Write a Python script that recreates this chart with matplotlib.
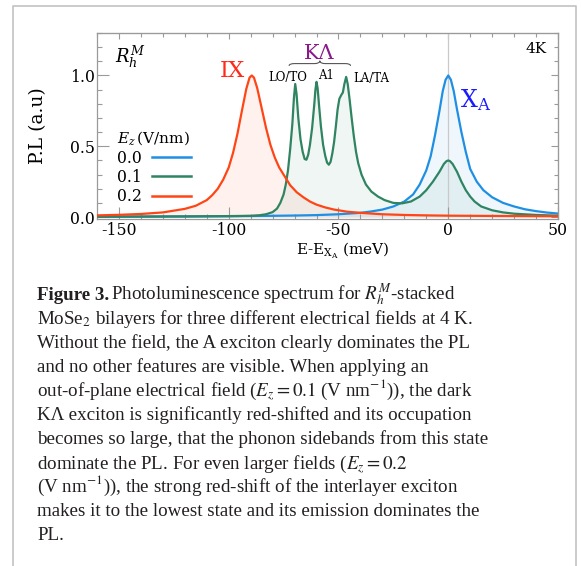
import matplotlib
matplotlib.use("Agg")
import matplotlib.pyplot as plt
from matplotlib.lines import Line2D
from matplotlib.path import Path
from matplotlib.patches import PathPatch
from matplotlib.ticker import MultipleLocator

# ---------------- data ----------------
series_labels = ["0.0", "0.1", "0.2"]
series_colors = ["#1f8fe3", "#2f8462", "#ff4515"]

blue_x = [-160, -140, -120, -100, -80, -70, -60, -50, -40, -35,
          -30, -25, -20, -16, -13, -10, -8, -6, -4, -2.5,
          -1.2, 0, 1.2, 2.5, 4, 6, 8, 10, 13, 16,
          20, 25, 30, 35, 40, 45, 50]
blue_y = [0.002, 0.003, 0.004, 0.006, 0.009, 0.011, 0.014, 0.02, 0.03, 0.04,
          0.053, 0.075, 0.11, 0.16, 0.23, 0.33, 0.43, 0.58, 0.75, 0.89,
          0.97, 1.0, 0.97, 0.89, 0.76, 0.60, 0.46, 0.34, 0.25, 0.19,
          0.14, 0.10, 0.075, 0.055, 0.042, 0.032, 0.025]

green_x = [-160, -140, -120, -100, -90, -86, -83, -80, -78, -76.5,
           -75, -74, -73, -72, -71, -70.3, -69.7, -69.1, -68.3, -67.3,
           -66.3, -65.4, -64.6, -63.8, -63, -62, -61, -60.5, -60, -59.5,
           -58.8, -58, -57, -56, -55.2, -54.4, -53.6, -52.8, -52, -51.2,
           -50.4, -49.6, -48.8, -48, -47.3, -46.5, -45.8, -45, -44, -43,
           -42, -41, -39.5, -37.5, -35, -32, -29, -25, -21, -17,
           -13, -10, -7, -4, -2, -0.8, 0, 0.8, 2, 4,
           6, 8, 10, 12, 15, 20, 25, 30, 40, 50]
green_y = [0.003, 0.004, 0.005, 0.007, 0.009, 0.013, 0.02, 0.035, 0.06, 0.10,
           0.16, 0.23, 0.33, 0.48, 0.66, 0.84, 0.94, 0.87, 0.70, 0.55,
           0.46, 0.41, 0.405, 0.44, 0.51, 0.63, 0.80, 0.90, 0.955, 0.91,
           0.78, 0.64, 0.51, 0.43, 0.385, 0.37, 0.39, 0.45, 0.53, 0.64,
           0.76, 0.835, 0.86, 0.88, 0.94, 0.99, 0.94, 0.84, 0.70, 0.57,
           0.46, 0.38, 0.30, 0.23, 0.18, 0.145, 0.12, 0.10, 0.097, 0.11,
           0.145, 0.19, 0.25, 0.32, 0.375, 0.395, 0.40, 0.395, 0.375, 0.32,
           0.25, 0.19, 0.145, 0.11, 0.075, 0.048, 0.033, 0.024, 0.015, 0.01]

red_x = [-160, -150, -140, -130, -120, -115, -110, -107.5, -105, -102.5,
         -100, -98, -96, -94, -92, -90.5, -89.5, -88.5, -87, -85,
         -83, -81, -79, -77, -75, -72, -69, -66, -63, -60,
         -56, -52, -46, -40, -30, -20, -10, 0, 10, 20,
         35, 50]
red_y = [0.012, 0.016, 0.022, 0.033, 0.058, 0.08, 0.12, 0.155, 0.20, 0.265,
         0.35, 0.455, 0.59, 0.75, 0.905, 0.985, 1.00, 0.985, 0.91, 0.77,
         0.63, 0.51, 0.42, 0.35, 0.30, 0.225, 0.175, 0.14, 0.11, 0.088,
         0.068, 0.053, 0.038, 0.03, 0.02, 0.015, 0.012, 0.01, 0.009, 0.008,
         0.007, 0.006]

x_major = [-150, -100, -50, 0, 50]
y_major = [0.0, 0.5, 1.0]

caption_lines = [
    r"MoSe$_2$ bilayers for three different electrical fields at 4 K.",
    r"Without the field, the A exciton clearly dominates the PL",
    r"and no other features are visible. When applying an",
    r"out-of-plane electrical field ($E_z = 0.1$ (V nm$^{-1}$)), the dark",
    "K\u039b exciton is significantly red-shifted and its occupation",
    r"becomes so large, that the phonon sidebands from this state",
    r"dominate the PL. For even larger fields ($E_z = 0.2$",
    r"(V nm$^{-1}$)), the strong red-shift of the interlayer exciton",
    r"makes it to the lowest state and its emission dominates the",
    r"PL.",
]

# ---------------- figure ----------------
plt.rcParams["font.family"] = "DejaVu Serif"
plt.rcParams["mathtext.fontset"] = "dejavuserif"
plt.rcParams["axes.unicode_minus"] = False

W, H = 581, 566
fig = plt.figure(figsize=(W / 100, H / 100), dpi=100)
ax = fig.add_axes([97 / W, 1 - 218.5 / H, 461 / W, 185.5 / H])

spine_c = "#9a9a9a"
xs_all = [blue_x, green_x, red_x]
ys_all = [blue_y, green_y, red_y]
for i, (xs, ys) in enumerate(zip(xs_all, ys_all)):
    ax.fill_between(xs, 0, ys, color=series_colors[i], alpha=0.07, lw=0, zorder=1)
ax.axvline(0, color="#c9c9c9", lw=0.9, zorder=1.5)
for i, (xs, ys) in enumerate(zip(xs_all, ys_all)):
    ax.plot(xs, ys, color=series_colors[i], lw=1.6, zorder=2 + i,
            solid_joinstyle="round")

ax.set_xlim(-160, 50)
ax.set_ylim(-0.01, 1.3)
ax.set_xticks(x_major)
ax.set_yticks(y_major)
ax.xaxis.set_minor_locator(MultipleLocator(10))
ax.yaxis.set_minor_locator(MultipleLocator(0.1))
for s in ax.spines.values():
    s.set_color(spine_c)
    s.set_linewidth(0.9)
ax.tick_params(which="major", direction="in", length=8.5, width=0.8, color=spine_c,
               labelsize=11.3, pad=2.5)
ax.tick_params(which="minor", direction="in", length=3.5, width=0.8, color=spine_c)
ax.tick_params(axis="y", which="major", pad=1.5)

secx = ax.secondary_xaxis("top")
secx.set_xticks(x_major)
secx.xaxis.set_minor_locator(MultipleLocator(10))
secx.tick_params(which="both", direction="in", color=spine_c, labeltop=False, width=0.8)
secx.tick_params(which="major", length=4)
secx.tick_params(which="minor", length=3)
secx.spines["top"].set_color(spine_c)
secy = ax.secondary_yaxis("right")
secy.set_yticks(y_major)
secy.yaxis.set_minor_locator(MultipleLocator(0.1))
secy.tick_params(which="both", direction="in", color=spine_c, labelright=False, width=0.8)
secy.tick_params(which="major", length=5)
secy.tick_params(which="minor", length=3)
secy.spines["right"].set_color(spine_c)

ax.set_ylabel("P.L (a.u)", fontsize=13.5)
ax.yaxis.set_label_coords((47 - 97) / 461, 0.5)
ax.set_xlabel(r"E-E$_{\mathrm{X_A}}$ (meV)", fontsize=11)
ax.xaxis.set_label_coords((343 - 97) / 461, (218.5 - 241) / 185.5)

# annotations
ax.text(-98.2, 1.035, "IX", color="#ff2a1a", fontsize=16.5, ha="center", va="center")
ax.text(-59.0, 1.155, "K\u039b", color="#8a1a8a", fontsize=15, ha="center", va="center")
ax.text(-73.0, 0.985, "LO/TO", fontsize=8.5, ha="center", va="center")
ax.text(-55.5, 1.0, "A1", fontsize=8.5, ha="center", va="center")
ax.text(-35.0, 0.978, "LA/TA", fontsize=8.5, ha="center", va="center")
ax.text(5.2, 0.83, r"$\mathrm{X_A}$", color="#1a1aff", fontsize=17, ha="left", va="center")
ax.text(0.952, 0.912, "4K", transform=ax.transAxes, fontsize=11, ha="center", va="center")
ax.text(0.038, 0.87, r"$R_h^M$", transform=ax.transAxes, fontsize=13, ha="left", va="center")

# curly brace under K Lambda
x0, x1, xm = -72.5, -44.5, -58.5
yb, ym, yt = 1.068, 1.084, 1.104
verts = [(x0, yb), (x0, ym), (x0 + 2.5, ym), (xm - 2.5, ym), (xm, ym), (xm, yt),
         (xm, ym), (xm + 2.5, ym), (x1 - 2.5, ym), (x1, ym), (x1, yb)]
codes = [Path.MOVETO, Path.CURVE3, Path.CURVE3, Path.LINETO, Path.CURVE3, Path.CURVE3,
         Path.CURVE3, Path.CURVE3, Path.LINETO, Path.CURVE3, Path.CURVE3]
ax.add_patch(PathPatch(Path(verts, codes), fill=False, lw=0.8, color="#555555",
                       clip_on=False))

handles = [Line2D([], [], color=c, lw=1.8) for c in series_colors]
leg = ax.legend(handles, series_labels, loc="upper left", bbox_to_anchor=(0.043, 0.48),
                frameon=False, markerfirst=False, handlelength=2.5, handletextpad=0.65,
                labelspacing=0.15, title=r"$E_z\,$(V/nm)", alignment="left",
                borderpad=0, borderaxespad=0, fontsize=11.3, title_fontsize=11)

# frame around figure
fig.add_artist(Line2D([13 / W, 13 / W, 576 / W, 576 / W],
                      [-0.02, 1 - 6 / H, 1 - 6 / H, -0.02],
                      transform=fig.transFigure, color="#c2c2c2", lw=1.2))

# caption
cap_kw = dict(fontsize=13.7, family="Liberation Serif", math_fontfamily="stix",
              color="#231f20", va="baseline", ha="left")
fig.text(37 / W, 1 - 299.5 / H, "Figure 3.", fontweight="bold", **cap_kw)
fig.text(111 / W, 1 - 299.5 / H, r"Photoluminescence spectrum for $R_h^M$-stacked", **cap_kw)
for i, line in enumerate(caption_lines):
    fig.text(37 / W, 1 - (299.5 + 24.1 * (i + 1)) / H, line, **cap_kw)

fig.savefig("out.png", dpi=100)
